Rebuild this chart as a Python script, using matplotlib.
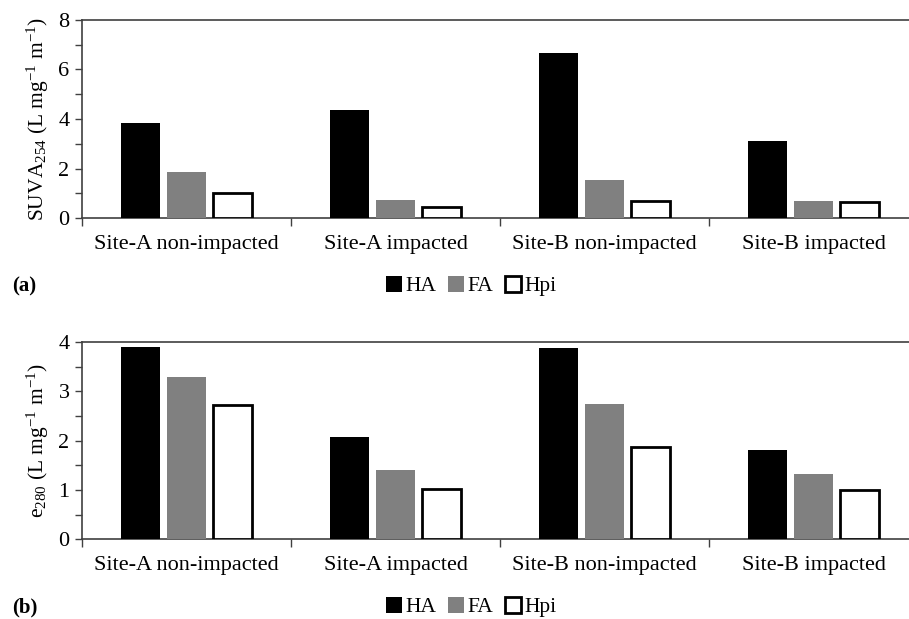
import numpy as np
import matplotlib
matplotlib.use('Agg')
import matplotlib.pyplot as plt
from matplotlib.ticker import MultipleLocator

plt.rcParams['font.family'] = ['Liberation Serif', 'DejaVu Serif']
plt.rcParams['mathtext.fontset'] = 'custom'
plt.rcParams['mathtext.rm'] = 'Liberation Serif'
plt.rcParams['mathtext.default'] = 'regular'

sites = ['Site-A non-impacted', 'Site-A impacted', 'Site-B non-impacted', 'Site-B impacted']
fractions = ['HA', 'FA', 'Hpi']

# panel (a): SUVA254
suva_ha = [3.85, 4.38, 6.68, 3.11]
suva_fa = [1.87, 0.74, 1.54, 0.69]
suva_hpi = [1.02, 0.44, 0.67, 0.63]

# panel (b): e280
e280_ha = [3.89, 2.07, 3.87, 1.82]
e280_fa = [3.29, 1.40, 2.75, 1.33]
e280_hpi = [2.72, 1.01, 1.87, 1.00]

fig = plt.figure(figsize=(9.09, 6.19), dpi=100)
ax_a = fig.add_axes([0.0902, 0.6478, 0.9197, 0.3199])
ax_b = fig.add_axes([0.0902, 0.1288, 0.9197, 0.3187])

styles = [dict(color='black', edgecolor='black', linewidth=0),
          dict(color='#808080', edgecolor='#808080', linewidth=0),
          dict(facecolor='white', edgecolor='black', linewidth=2.0)]


def draw_panel(ax, series, ymax, major, minor, ylabel, tag, legend_y):
    x = np.arange(len(sites))
    w = 0.187
    gap = 0.222
    for i, (vals, st) in enumerate(zip(series, styles)):
        ax.bar(x + (i - 1) * gap, vals, width=w, label=fractions[i], zorder=3, **st)
    ax.set_xlim(-0.5, len(sites) - 0.5)
    ax.set_ylim(0, ymax)
    ax.yaxis.set_major_locator(MultipleLocator(major))
    ax.yaxis.set_minor_locator(MultipleLocator(minor))
    ax.set_xticks(x)
    ax.set_xticklabels(sites, fontsize=16)
    ax.tick_params(axis='x', length=0, pad=12)
    ax.set_xticks(np.arange(len(sites) + 1) - 0.5, minor=True)
    ax.tick_params(axis='x', which='minor', length=6, width=1, color='#404040')
    ax.tick_params(axis='y', which='both', length=5, width=1, color='#404040',
                   labelsize=16, pad=4)
    ax.spines['right'].set_visible(False)
    for s in ['left', 'bottom', 'top']:
        ax.spines[s].set_color('#404040')
        ax.spines[s].set_linewidth(1.2)
    ax.set_ylabel(ylabel, fontsize=15.5, labelpad=5)
    ax.legend(loc='center', bbox_to_anchor=(0.518, legend_y), bbox_transform=fig.transFigure,
              ncol=3, frameon=False, fontsize=15.5, handlelength=0.75, handleheight=0.75,
              handletextpad=0.15, columnspacing=0.55, borderaxespad=0)
    fig.text(0.013, legend_y, tag, fontsize=15, fontweight='bold', va='center', ha='left')


draw_panel(ax_a, [suva_ha, suva_fa, suva_hpi], 8, 2, 1,
           r'SUVA$_{254}$ (L mg$^{-1}$ m$^{-1}$)', '(a)', 1 - 286 / 619)
draw_panel(ax_b, [e280_ha, e280_fa, e280_hpi], 4, 1, 0.5,
           r'e$_{280}$ (L mg$^{-1}$ m$^{-1}$)', '(b)', 1 - 607 / 619)

fig.savefig('out.png', dpi=100)
